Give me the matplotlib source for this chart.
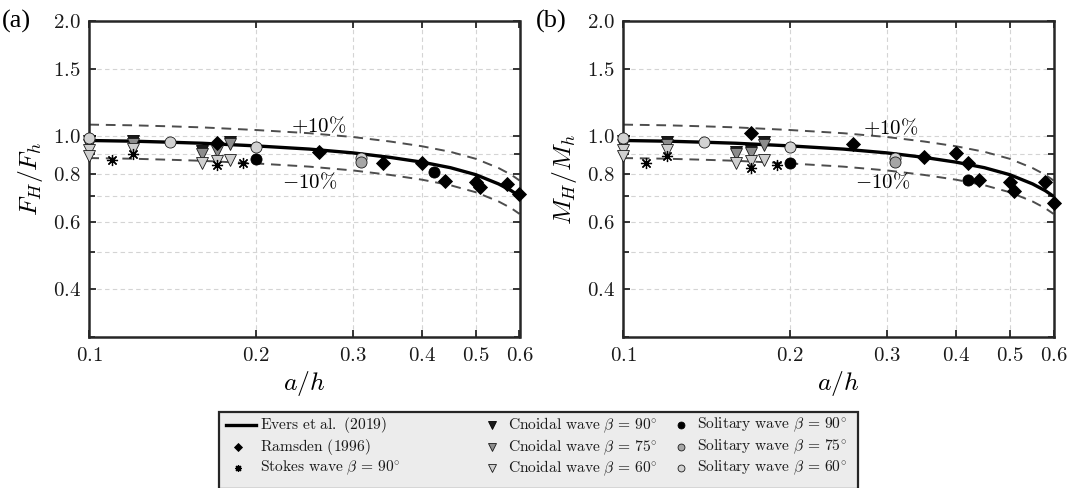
import matplotlib
matplotlib.use("Agg")
import matplotlib.pyplot as plt
from matplotlib.lines import Line2D
from matplotlib.patches import Rectangle

plt.rcParams["mathtext.fontset"] = "cm"
plt.rcParams["font.family"] = ["cmr10", "DejaVu Serif"]
plt.rcParams["axes.formatter.use_mathtext"] = True
plt.rcParams["axes.unicode_minus"] = False

# Evers et al. (2019) prediction (shared by both panels)
curve_ah = [0.10, 0.12, 0.14, 0.16, 0.20, 0.25, 0.30, 0.35, 0.40, 0.45, 0.50, 0.55, 0.58, 0.60]
curve_val = [0.976, 0.972, 0.966, 0.960, 0.945, 0.927, 0.906, 0.882, 0.857, 0.829, 0.795, 0.752, 0.722, 0.698]

# (a) horizontal force ratio F_H/F_h
F_ramsden_x = [0.17, 0.26, 0.34, 0.40, 0.44, 0.50, 0.51, 0.57, 0.60]
F_ramsden_y = [0.962, 0.911, 0.852, 0.852, 0.767, 0.760, 0.738, 0.750, 0.709]
F_stokes90_x = [0.11, 0.12, 0.17, 0.19]
F_stokes90_y = [0.866, 0.900, 0.845, 0.852]
F_cn90_x = [0.10, 0.12, 0.16, 0.18]
F_cn90_y = [0.972, 0.972, 0.914, 0.967]
F_cn75_x = [0.10, 0.12, 0.16, 0.17, 0.18]
F_cn75_y = [0.948, 0.957, 0.898, 0.914, 0.953]
F_cn60_x = [0.10, 0.10, 0.12, 0.16, 0.17, 0.18]
F_cn60_y = [0.920, 0.891, 0.927, 0.854, 0.865, 0.869]
F_sol90_x = [0.20, 0.42]
F_sol90_y = [0.873, 0.807]
F_sol75_x = [0.31]
F_sol75_y = [0.857]
F_sol60_x = [0.10, 0.14, 0.20, 0.31]
F_sol60_y = [0.990, 0.969, 0.936, 0.878]

# (b) overturning moment ratio M_H/M_h
M_ramsden_x = [0.17, 0.26, 0.35, 0.40, 0.42, 0.44, 0.50, 0.51, 0.58, 0.60]
M_ramsden_y = [1.020, 0.957, 0.882, 0.905, 0.852, 0.768, 0.763, 0.719, 0.760, 0.670]
M_stokes90_x = [0.11, 0.12, 0.17, 0.19]
M_stokes90_y = [0.852, 0.891, 0.827, 0.840]
M_cn90_x = [0.10, 0.12, 0.16, 0.17, 0.18]
M_cn90_y = [0.972, 0.970, 0.911, 0.919, 0.967]
M_cn75_x = [0.10, 0.12, 0.16, 0.17, 0.18]
M_cn75_y = [0.948, 0.951, 0.900, 0.905, 0.951]
M_cn60_x = [0.10, 0.10, 0.12, 0.16, 0.17, 0.18]
M_cn60_y = [0.920, 0.891, 0.923, 0.852, 0.861, 0.869]
M_sol90_x = [0.20, 0.42]
M_sol90_y = [0.852, 0.768]
M_sol75_x = [0.31]
M_sol75_y = [0.857]
M_sol60_x = [0.10, 0.14, 0.20, 0.31]
M_sol60_y = [0.990, 0.967, 0.936, 0.878]

x_ticks = [0.1, 0.2, 0.3, 0.4, 0.5, 0.6]
y_ticks = [0.4, 0.6, 0.8, 1.0, 1.5, 2.0]
y_minor = [0.3, 0.5, 0.7, 0.9]

legend_labels = [
    r"$\mathrm{Evers\ et\ al.\ (2019)}$",
    r"$\mathrm{Ramsden\ (1996)}$",
    r"$\mathrm{Stokes\ wave}\ \beta\,=\,90^{\circ}$",
    r"$\mathrm{Cnoidal\ wave}\ \beta\,=\,90^{\circ}$",
    r"$\mathrm{Cnoidal\ wave}\ \beta\,=\,75^{\circ}$",
    r"$\mathrm{Cnoidal\ wave}\ \beta\,=\,60^{\circ}$",
    r"$\mathrm{Solitary\ wave}\ \beta\,=\,90^{\circ}$",
    r"$\mathrm{Solitary\ wave}\ \beta\,=\,75^{\circ}$",
    r"$\mathrm{Solitary\ wave}\ \beta\,=\,60^{\circ}$",
]

frame_col = "#262626"
grid_col = "#d4d4d4"
band_col = "#4d4d4d"

styles = {
    "ramsden": dict(marker="D", ms=6.8, mfc="k", mec="k", mew=0.6),
    "stokes": dict(marker=(8, 2, 0), ms=8, mfc="k", mec="k", mew=0.9),
    "cn90": dict(marker="v", ms=8.5, mfc="#1a1a1a", mec="k", mew=0.6),
    "cn75": dict(marker="v", ms=8.5, mfc="#8c8c8c", mec="#1a1a1a", mew=0.6),
    "cn60": dict(marker="v", ms=8.5, mfc="#cfcfcf", mec="#1a1a1a", mew=0.6),
    "sol90": dict(marker="o", ms=8, mfc="k", mec="k", mew=0.6),
    "sol75": dict(marker="o", ms=8, mfc="#a6a6a6", mec="#1a1a1a", mew=0.6),
    "sol60": dict(marker="o", ms=8, mfc="#d2d2d2", mec="#1a1a1a", mew=0.6),
}

W, H = 1072, 488


def panel(ax, series, ylabel, tag, plus_pos, minus_pos):
    ax.set_xscale("log")
    ax.set_yscale("log")
    ax.set_xlim(0.1, 0.6)
    ax.set_ylim(0.3, 2.0)

    for v in [0.2, 0.3, 0.4, 0.5]:
        ax.axvline(v, color=grid_col, lw=0.8, ls=(0, (4, 3)), zorder=0)
    for v in [0.4, 0.5, 0.6, 0.7, 0.8, 0.9, 1.0, 1.5]:
        ax.axhline(v, color=grid_col, lw=0.8, ls=(0, (4, 3)), zorder=0)

    up = [v * 1.1 for v in curve_val]
    dn = [v * 0.9 for v in curve_val]
    ax.plot(curve_ah, up, color=band_col, lw=1.4, ls=(0, (5, 3.5)), zorder=2)
    ax.plot(curve_ah, dn, color=band_col, lw=1.4, ls=(0, (5, 3.5)), zorder=2)
    ax.plot(curve_ah, curve_val, color="k", lw=2.4, zorder=3,
            solid_capstyle="butt")

    order = ["cn90", "cn75", "cn60", "sol60", "sol75", "sol90", "ramsden", "stokes"]
    for key in order:
        xs, ys = series[key]
        ax.plot(xs, ys, ls="none", zorder=4, clip_on=False, **styles[key])

    ax.text(plus_pos[0], plus_pos[1], r"$+10\%$", fontsize=15,
            ha="center", va="center", zorder=5)
    ax.text(minus_pos[0], minus_pos[1], r"$-10\%$", fontsize=15,
            ha="center", va="center", zorder=5)

    ax.set_xticks(x_ticks, labels=[f"${v:.1f}$" for v in x_ticks])
    ax.set_xticks([], minor=True)
    ax.set_yticks(y_ticks, labels=[f"${v:.1f}$" for v in y_ticks])
    ax.set_yticks(y_minor, minor=True)
    ax.yaxis.set_minor_formatter(plt.NullFormatter())
    ax.tick_params(which="both", direction="in", top=True, right=True,
                   color=frame_col, width=1.3, labelsize=15,
                   labelcolor="#1a1a1a")
    ax.tick_params(which="major", length=5)
    ax.tick_params(which="minor", length=4)
    ax.tick_params(axis="x", pad=7)
    ax.tick_params(axis="y", pad=6)
    for s in ax.spines.values():
        s.set_color(frame_col)
        s.set_linewidth(1.8)

    ax.set_xlabel(r"$a/h$", fontsize=18.5, labelpad=3)
    ax.set_ylabel(ylabel, fontsize=18.5, labelpad=6)
    ax.text(-0.203, 1.0, tag, transform=ax.transAxes, fontsize=19,
            family="Liberation Serif", ha="left", va="center")


fig = plt.figure(figsize=(W / 100, H / 100), dpi=100)
axA = fig.add_axes([89.3 / W, (H - 337) / H, 430.2 / W, 316 / H])
axB = fig.add_axes([623.3 / W, (H - 337) / H, 430.2 / W, 316 / H])

seriesF = {
    "ramsden": (F_ramsden_x, F_ramsden_y), "stokes": (F_stokes90_x, F_stokes90_y),
    "cn90": (F_cn90_x, F_cn90_y), "cn75": (F_cn75_x, F_cn75_y), "cn60": (F_cn60_x, F_cn60_y),
    "sol90": (F_sol90_x, F_sol90_y), "sol75": (F_sol75_x, F_sol75_y), "sol60": (F_sol60_x, F_sol60_y),
}
seriesM = {
    "ramsden": (M_ramsden_x, M_ramsden_y), "stokes": (M_stokes90_x, M_stokes90_y),
    "cn90": (M_cn90_x, M_cn90_y), "cn75": (M_cn75_x, M_cn75_y), "cn60": (M_cn60_x, M_cn60_y),
    "sol90": (M_sol90_x, M_sol90_y), "sol75": (M_sol75_x, M_sol75_y), "sol60": (M_sol60_x, M_sol60_y),
}

panel(axA, seriesF, r"$F_H/F_h$", "(a)", (0.2596, 1.073), (0.2508, 0.763))
panel(axB, seriesM, r"$M_H/M_h$", "(b)", (0.304, 1.06), (0.295, 0.763))

# Legend box laid out column by column (pixel positions -> figure fraction)
def fx(px):
    return px / W


def fy(py):
    return 1 - py / H


box = Rectangle((fx(219), fy(489)), fx(858) - fx(219), fy(412) - fy(489),
                transform=fig.transFigure, facecolor="#ececec",
                edgecolor=frame_col, lw=1.6, zorder=1, clip_on=False)
fig.add_artist(box)

row_y = [425, 447, 468]
legend_keys = [None, "ramsden", "stokes", "cn90", "cn75", "cn60", "sol90", "sol75", "sol60"]
col_marker_x = [238, 492, 681]
col_text_x = [260, 508, 697]
for i, (key, lab) in enumerate(zip(legend_keys, legend_labels)):
    c, r = divmod(i, 3)
    y = fy(row_y[r])
    if key is None:
        fig.add_artist(Line2D([fx(226), fx(256)], [y, y], color="k", lw=2.4,
                              transform=fig.transFigure, zorder=2))
    else:
        st = dict(styles[key])
        st["ms"] = st["ms"] * 0.62
        fig.add_artist(Line2D([fx(col_marker_x[c])], [y], ls="none",
                              transform=fig.transFigure, zorder=2, **st))
    fig.text(fx(col_text_x[c]), y, lab, fontsize=11.2, ha="left", va="center",
             color="#1a1a1a", zorder=2)

fig.savefig("out.png", dpi=100)
